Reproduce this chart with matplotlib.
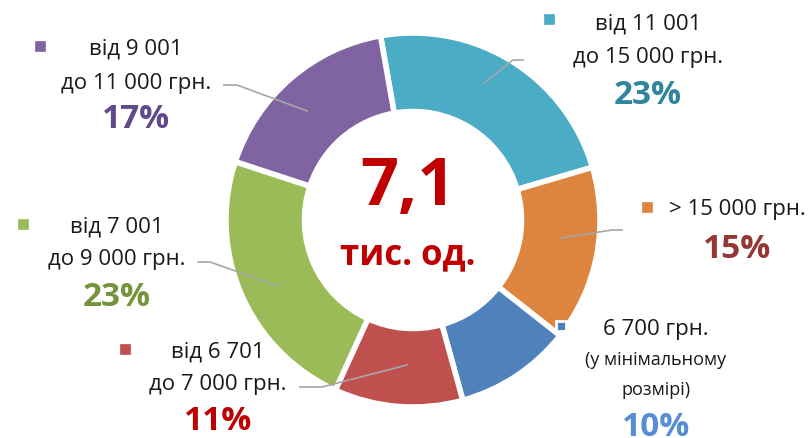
import matplotlib.pyplot as plt

plt.rcParams['font.family'] = ['Open Sans', 'DejaVu Sans']

# data, clockwise from the top
shares = [23, 15, 10, 11, 23, 17]
labels = [
    "від 11 001\nдо 15 000 грн.",
    "> 15 000 грн.",
    "6 700 грн.",
    "від 6 701\nдо 7 000 грн.",
    "від 7 001\nдо 9 000 грн.",
    "від 9 001\nдо 11 000 грн.",
]
colors = ["#4BACC6", "#DD853F", "#4F81BD", "#C0504D", "#9BBB59", "#8064A2"]
pct_colors = ["#31859C", "#953735", "#558ED5", "#C00000", "#77933C", "#604A8B"]
total_text = "7,1"
total_unit = "тис. од."

W, H = 811, 439
fig = plt.figure(figsize=(W / 100, H / 100), dpi=100)
ax = fig.add_axes([0, 0, 1, 1])

cx, cy, R = 413, 221, 187
ax.pie(shares, colors=colors, startangle=100, counterclock=False,
       radius=R, center=(cx, H - cy), explode=[0.035] * len(shares),
       wedgeprops=dict(width=R * 0.42, edgecolor="white", linewidth=4))
ax.set_xlim(0, W)
ax.set_ylim(0, H)
ax.set_aspect("equal")
ax.axis("off")

txt = "#1A1A1A"
lead = "#A6A6A6"


def y(v):
    return H - v


# label layout: marker pos, text centre x, line y's, pct y
layout = [
    ((549, 20), 648, [24, 57], 95),
    ((647, 208), 737, [210], 250),
    ((561, 327), 656, [330], 428),
    ((125, 350), 218, [352, 385], 422),
    ((23, 225), 117, [227, 260], 297),
    ((40, 47), 136, [49, 83], 120),
]

for i, (mk, tx, ly, py) in enumerate(layout):
    edge = "white" if i == 2 else colors[i]
    ax.plot(mk[0], y(mk[1]), marker="s", ms=7.5, color=colors[i],
            mec=edge, mew=2 if i == 2 else 0.5, zorder=5)
    for line, yy in zip(labels[i].split("\n"), ly):
        ax.text(tx, y(yy), line, ha="center", va="center", fontsize=16, color=txt)
    ax.text(tx, y(py), f"{shares[i]}%", ha="center", va="center",
            fontsize=24, fontweight="bold", color=pct_colors[i])

# extra lines for the minimum wage label
ax.text(656, y(360), "(у мінімальному", ha="center", va="center", fontsize=13, color=txt)
ax.text(656, y(390), "розмірі)", ha="center", va="center", fontsize=13, color=txt)

# leader lines
leaders = [
    [(484, 84), (513, 61), (523, 61)],
    [(561, 239), (612, 231), (622, 231)],
    [(407, 366), (322, 388), (300, 388)],
    [(278, 287), (210, 263), (198, 263)],
    [(307, 112), (237, 86), (224, 86)],
]
for pts in leaders:
    ax.plot([p[0] for p in pts], [y(p[1]) for p in pts], color=lead, lw=1.2, zorder=4)

ax.text(cx - 5, y(188), total_text, ha="center", va="center", fontsize=48,
        fontweight="bold", color="#C00000")
ax.text(cx - 5, y(255), total_unit, ha="center", va="center", fontsize=25,
        fontweight="bold", color="#C00000")

fig.savefig("out.png", dpi=100)
